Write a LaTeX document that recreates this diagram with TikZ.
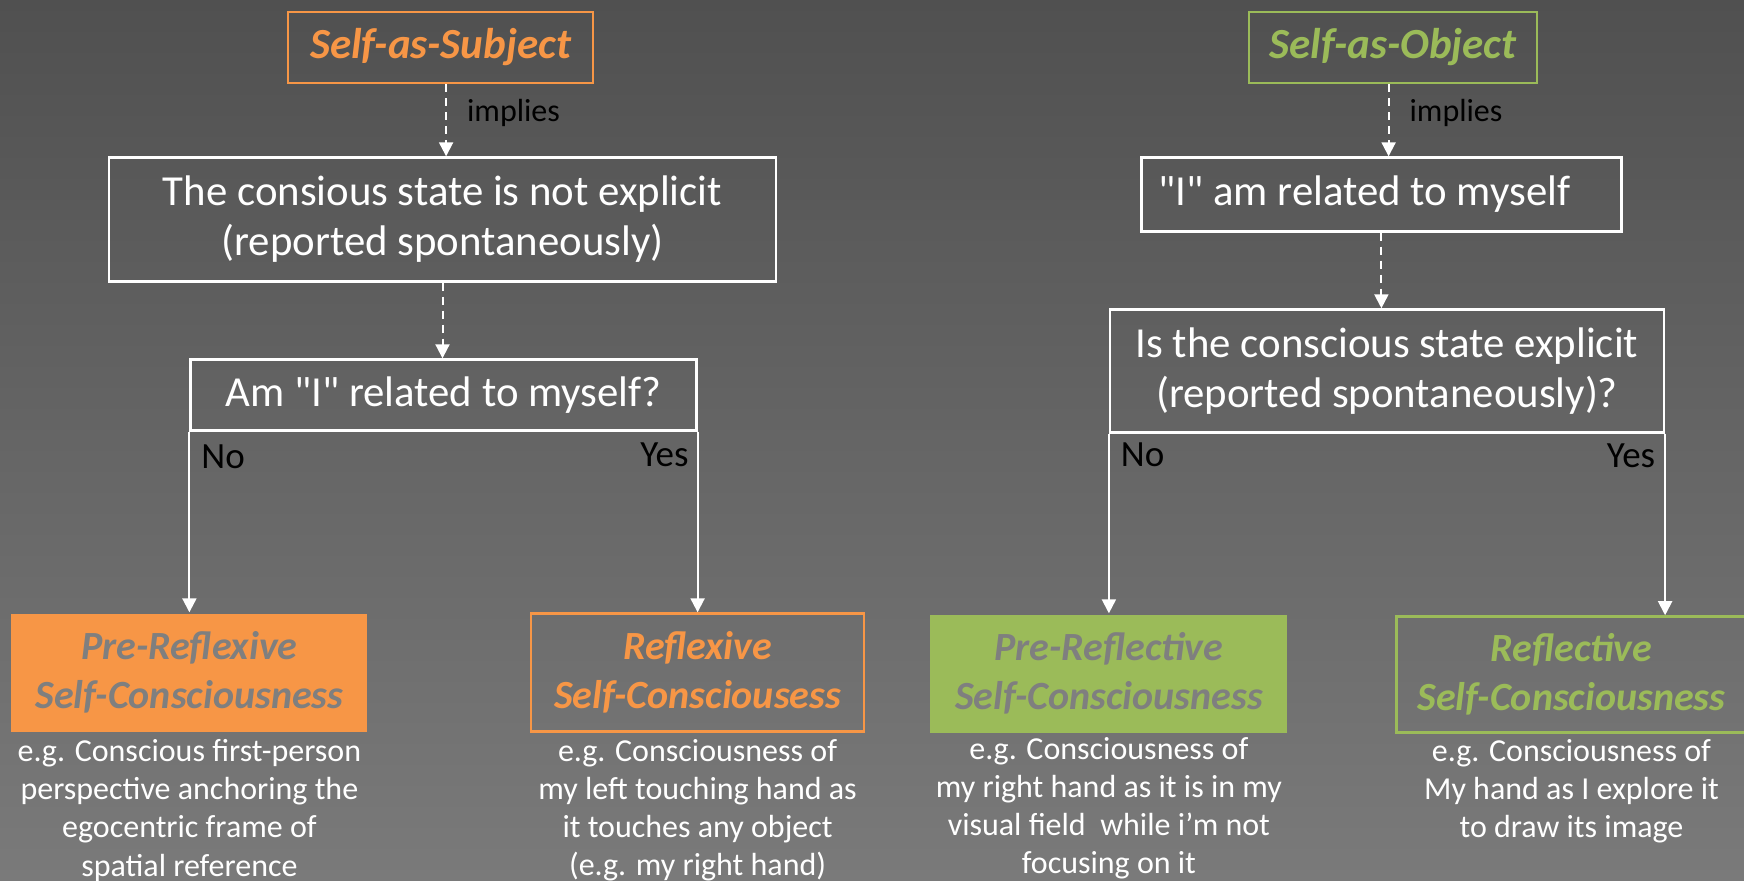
\documentclass[tikz,border=0pt]{standalone}
\usepackage{fontspec}
\setmainfont{Carlito}[Ligatures=TeXOff]
\usetikzlibrary{arrows.meta, positioning}

\definecolor{sorange}{HTML}{F79646}
\definecolor{sgreen}{HTML}{9BBB59}
\definecolor{boxtext}{HTML}{7F7F7F}
\definecolor{bgtop}{HTML}{505050}
\definecolor{bgbottom}{HTML}{7A7A7A}

\begin{document}
\begin{tikzpicture}[x=0.5pt, y=-0.5pt, >={Triangle[width=7pt, length=7pt]}]
        \tikzstyle{head} = [draw, line width=1.3pt, minimum height=35.5pt, font=\fontsize{21.5}{25}\selectfont\bfseries\itshape]
        \tikzstyle{question} = [draw=white, text=white, line width=1.1pt, align=center, font=\fontsize{21.4}{25}\selectfont]
        \tikzstyle{result} = [line width=1.3pt, align=center, minimum height=59pt, font=\fontsize{20}{24.5}\selectfont\bfseries\itshape]
        \tikzstyle{note} = [text=white, align=center, inner sep=0pt, font=\fontsize{16}{19.1}\selectfont]
        \tikzstyle{answer} = [text=black, inner sep=0pt, font=\fontsize{18.5}{21}\selectfont]
        \tikzstyle{implies} = [->, draw=white, line width=1pt, dash pattern=on 4pt off 3pt]
        \tikzstyle{branch} = [->, draw=white, line width=1pt]

        \useasboundingbox (0,0) rectangle (1744,880);
        \shade[top color=bgtop, bottom color=bgbottom] (0,0) rectangle (1744,880);

        % self as subject
        \node [head, draw=sorange, text=sorange, minimum width=152.5pt] (subj) at (440.5,47.5) {Self-as-Subject};
        \node [question, minimum width=333.5pt, minimum height=62pt, below=36pt of subj, xshift=1pt] (notexpl) {The consious state is not explicit\\(reported spontaneously)};
        \node [question, minimum width=253pt, minimum height=35.5pt, below=37.9pt of notexpl, xshift=0.5pt] (amI) {Am "I" related to myself?};
        \node [result, fill=sorange, text=boxtext, minimum width=178pt, below=90.4pt of amI.south west] (prerefx) {Pre-Reflexive\\Self-Consciousness};
        \node [result, draw=sorange, text=sorange, minimum width=166.5pt, below=90.4pt of amI.south east] (refx) {Reflexive\\Self-Consciousess};
        \node [note, below=3pt of prerefx] (prerefxnote) {e.g. Conscious first-person\\perspective anchoring the\\egocentric frame of\\spatial reference};
        \node [note, below=3pt of refx] (refxnote) {e.g. Consciousness of\\my left touching hand as\\it touches any object\\(e.g. my right hand)};

        % self as object
        \node [head, draw=sgreen, text=sgreen, minimum width=144pt] (obj) at (1393,47.5) {Self-as-Object};
        \node [question, minimum width=240pt, minimum height=37pt, below=36pt of obj, xshift=-5.8pt] (related) {"I" am related to myself\hspace*{17pt}};
        \node [question, minimum width=277pt, minimum height=61.5pt, below=37.9pt of related, xshift=2.8pt] (isexpl) {Is the conscious state explicit\\(reported spontaneously)?};
        \node [result, fill=sgreen, text=boxtext, minimum width=178.5pt, below=89.9pt of isexpl.south west] (prerefc) {Pre-Reflective\\Self-Consciousness};
        \node [result, draw=sgreen, text=sgreen, minimum width=175pt, minimum height=58pt] (refc) at (1571.5,674.5) {Reflective\\Self-Consciousness};
        \node [note, below=1.5pt of prerefc] (prerefcnote) {e.g. Consciousness of\\my right hand as it is in my\\visual field\ \ while i’m not\\focusing on it};
        \node [note, below=2.5pt of refc] (refcnote) {e.g. Consciousness of\\My hand as I explore it\\to draw its image};

        \draw [implies] ([xshift=2.8pt]subj.south) -- node [answer, pos=0.4, right=10pt, font=\fontsize{16}{19}\selectfont] {implies} ([xshift=2.8pt]subj.south |- notexpl.north);
        \draw [implies] (notexpl) -- (notexpl |- amI.north);
        \draw [implies] ([xshift=-2.2pt]obj.south) -- node [answer, pos=0.4, right=10pt, font=\fontsize{16}{19}\selectfont] {implies} ([xshift=-2.2pt]obj.south |- related.north);
        \draw [implies] (related) -- (related |- isexpl.north);

        \draw [branch] (amI.south west) -- node [answer, pos=0, below right=6pt and 5.5pt] {No} (prerefx);
        \draw [branch] (amI.south east) -- node [answer, pos=0, below left=5pt and 4pt] {Yes} (refx);
        \draw [branch] (isexpl.south west) -- node [answer, pos=0, below right=4pt and 5.5pt] {No} (prerefc);
        \draw [branch] (isexpl.south east) -- node [answer, pos=0, below left=4.5pt and 4.5pt] {Yes} (isexpl.south east |- refc.north);
    \end{tikzpicture}
\end{document}
